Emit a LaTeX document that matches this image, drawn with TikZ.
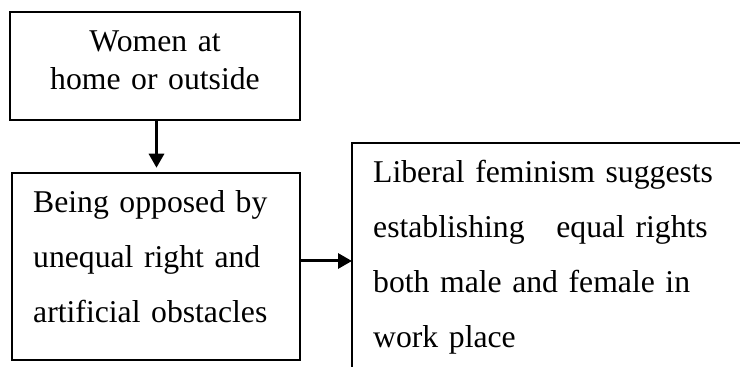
\documentclass[tikz,border=0pt]{standalone}
\usepackage{fontspec}
\setmainfont{Liberation Serif}
\usetikzlibrary{arrows.meta}
\tikzset{
  boxnode/.style={draw=black, line width=2.5pt, inner sep=0pt},
  conn/.style={line width=3pt, -{Triangle[length=14pt,width=15pt]}},
  txt/.style={inner sep=0pt, font=\fontsize{31.7}{55}\selectfont, align=left, text width=340pt},
}
\begin{document}
\begin{tikzpicture}[x=1pt,y=1pt]
\useasboundingbox (0,0) rectangle (740,367);
% box 1
\node[boxnode, minimum width=290pt, minimum height=108pt] (b1) at (155,301) {};
\node[inner sep=0pt, font=\fontsize{31.7}{38}\selectfont, align=center, text width=280pt, anchor=base] (t1) at (155,315) {Women at\\home or outside};
% box 2
\node[boxnode, minimum width=288pt, minimum height=187pt] (b2) at (156,100.5) {};
\node[txt, anchor=base west, text width=260pt] (t2) at (33,154) {Being opposed by\\unequal right and\\artificial obstacles};
% right (open) box
\coordinate (rtl) at (352,224);
\coordinate (rbl) at (352,-5);
\coordinate (rtr) at (745,224);
\draw[line width=2.5pt] (rbl) -- (rtl) -- (rtr);
\node[txt, anchor=base west, text width=360pt] (t3) at (373,184) {Liberal feminism suggests\\establishing\ \ \ equal rights\\both male and female in\\work place};
% connectors
\coordinate (a1s) at ([xshift=1.5pt]b1.south);
\draw[conn, shorten >=4pt] (a1s) -- (a1s |- b2.north);
\coordinate (a2s) at ([yshift=5.5pt]b2.east);
\draw[conn] (a2s) -- (a2s -| rtl);
\end{tikzpicture}
\end{document}
